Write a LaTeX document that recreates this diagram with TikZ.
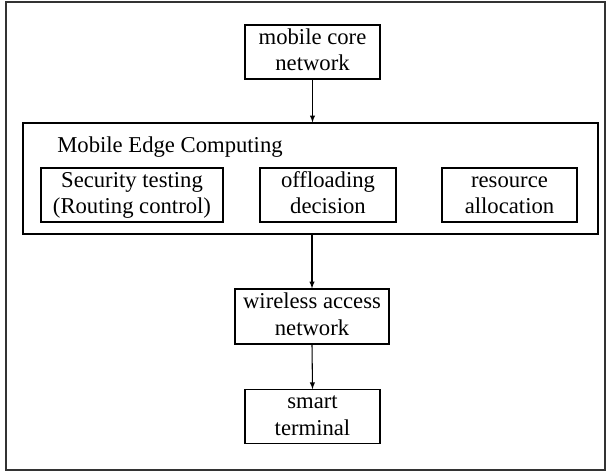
\documentclass[tikz,border=0pt]{standalone}
\usepackage{fontspec}
\setmainfont{Liberation Serif}
\begin{document}
\begin{tikzpicture}[x=0.75pt,y=-0.75pt,
	box/.style={draw,line width=0.8pt,align=center,inner sep=0pt,font=\fontsize{17}{20}\selectfont},
	link/.style={line width=0.8pt,-latex}]
	\useasboundingbox (0,0) rectangle (606,471);
	\draw[line width=0.8pt,black!80] (6,2) rectangle (605,470);
	\node[box,minimum width=101.25pt,minimum height=40.5pt] (core) at (312.5,52) {\strut mobile core\\network\strut};
	\node[box,minimum width=431.25pt,minimum height=83.25pt] (mec) at (310.5,178.5) {};
	\node[anchor=base west,inner sep=0pt,font=\fontsize{17}{20}\selectfont] (mectitle) at (57,152) {Mobile Edge Computing};
	\node[box,minimum width=136.5pt,minimum height=40.5pt] (security) at (132,195) {\strut Security testing\\(Routing control)\strut};
	\node[box,minimum width=102pt,minimum height=40.5pt] (offload) at (328,195) {\strut offloading\\decision\strut};
	\node[box,minimum width=101.25pt,minimum height=40.5pt] (resource) at (509.5,195) {\strut resource\\allocation\strut};
	\node[box,minimum width=115.5pt,minimum height=41.25pt] (wireless) at (312,316.5) {\strut wireless access\\network\strut};
	\node[box,minimum width=101.25pt,minimum height=39.75pt] (terminal) at (312.5,416.5) {\strut smart\\terminal\strut};
	\draw[link] (core.south) -- (core.south |- mec.north);
	\draw[link] (mec.south -| wireless.north) -- (wireless.north);
	\draw[link] (wireless.south) -- (terminal.north);
\end{tikzpicture}
\end{document}
